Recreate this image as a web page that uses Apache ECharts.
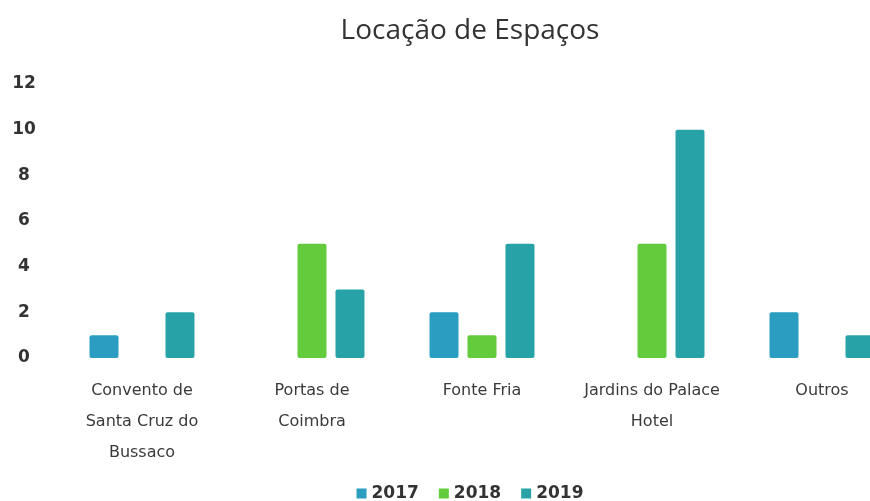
<!DOCTYPE html>
<html>
<head>
<meta charset="utf-8">
<script src="https://cdn.jsdelivr.net/npm/echarts@6/dist/echarts.min.js"></script>
<style>
html,body{margin:0;padding:0;overflow:hidden;background:#fff;width:870px;height:501px;}
#c{width:940px;height:501px;}
</style>
</head>
<body>
<div id="c"></div>
<script>
const categories = ['Convento de\nSanta Cruz do\nBussaco', 'Portas de\nCoimbra', 'Fonte Fria', 'Jardins do Palace\nHotel', 'Outros'];
const seriesNames = ['2017', '2018', '2019'];
const values2017 = [1, 0, 2, 0, 2];
const values2018 = [0, 5, 1, 5, 0];
const values2019 = [2, 3, 5, 10, 1];
const yTicks = [0, 2, 4, 6, 8, 10, 12];

const colors = ['#2a9dc0', '#62cc3c', '#27a3a7'];
const data = [values2017, values2018, values2019];

const chart = echarts.init(document.getElementById('c'), null, {renderer: 'canvas'});
chart.setOption({
  animation: false,
  backgroundColor: '#ffffff',
  title: {
    text: 'Locação de Espaços',
    left: 'center',
    top: 12,
    textStyle: {fontFamily: 'Open Sans', fontWeight: 'normal', fontSize: 28, color: '#333333'}
  },
  legend: {
    data: seriesNames,
    bottom: -6,
    left: 'center',
    itemWidth: 10,
    itemHeight: 10,
    itemGap: 20,
    icon: 'rect',
    textStyle: {fontFamily: 'DejaVu Sans', fontWeight: 'bold', fontSize: 17, color: '#333333', padding: [0, 0, 0, 0]}
  },
  grid: {left: 57, right: 33, top: 84, bottom: 143, containLabel: false},
  xAxis: {
    type: 'category',
    data: categories,
    axisLine: {show: false},
    axisTick: {show: false},
    axisLabel: {
      interval: 0,
      margin: 17,
      fontFamily: 'DejaVu Sans',
      fontSize: 16,
      lineHeight: 31,
      color: '#3a3a3a'
    }
  },
  yAxis: {
    type: 'value',
    min: yTicks[0],
    max: yTicks[yTicks.length - 1],
    interval: 2,
    splitLine: {show: false},
    axisLine: {show: false},
    axisTick: {show: false},
    axisLabel: {
      margin: 33,
      align: 'center',
      fontFamily: 'DejaVu Sans',
      fontWeight: 'bold',
      fontSize: 17,
      color: '#333333'
    }
  },
  series: seriesNames.map((n, i) => ({
    name: n,
    type: 'bar',
    data: data[i],
    barWidth: 29,
    barGap: '31%',
    itemStyle: {color: colors[i], borderRadius: 2}
  }))
});
</script>
</body>
</html>
